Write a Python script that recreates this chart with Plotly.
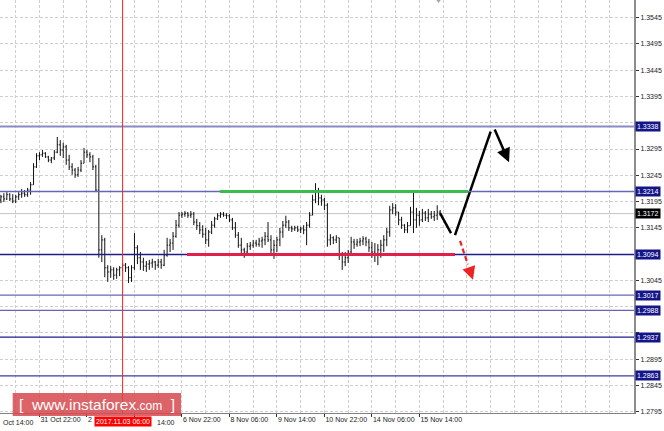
import plotly.graph_objects as go

# ---------------- data ----------------
# x positions are hour indices (H1 bars) relative to "31 Oct 22:00"; bars shown every 2 hours
bar_hour = list(range(-26, 271, 2))

bar_open = [
    1.3198, 1.3204, 1.3200, 1.3208, 1.3200, 1.3196, 1.3204, 1.3208, 1.3211, 1.3208,
    1.3217, 1.3227, 1.3261, 1.3282, 1.3284, 1.3287, 1.3280, 1.3274, 1.3278, 1.3289,
    1.3303, 1.3293, 1.3299, 1.3274, 1.3261, 1.3255, 1.3246, 1.3255, 1.3268, 1.3289,
    1.3284, 1.3280, 1.3261, 1.3217, 1.3103, 1.3122, 1.3069, 1.3061, 1.3065, 1.3055,
    1.3065, 1.3069, 1.3074, 1.3069, 1.3050, 1.3069, 1.3107, 1.3088, 1.3080, 1.3072,
    1.3076, 1.3078, 1.3080, 1.3074, 1.3080, 1.3074, 1.3093, 1.3112, 1.3116, 1.3129,
    1.3150, 1.3169, 1.3171, 1.3173, 1.3169, 1.3171, 1.3156, 1.3149, 1.3141, 1.3133,
    1.3122, 1.3137, 1.3150, 1.3162, 1.3168, 1.3171, 1.3169, 1.3168, 1.3160, 1.3145,
    1.3131, 1.3112, 1.3103, 1.3099, 1.3110, 1.3112, 1.3116, 1.3114, 1.3120, 1.3122,
    1.3129, 1.3122, 1.3103, 1.3112, 1.3122, 1.3137, 1.3150, 1.3156, 1.3145, 1.3143,
    1.3145, 1.3141, 1.3143, 1.3141, 1.3150, 1.3169, 1.3198, 1.3213, 1.3202, 1.3198,
    1.3188, 1.3122, 1.3126, 1.3122, 1.3126, 1.3093, 1.3080, 1.3088, 1.3099, 1.3118,
    1.3114, 1.3118, 1.3120, 1.3124, 1.3118, 1.3107, 1.3099, 1.3093, 1.3103, 1.3112,
    1.3122, 1.3137, 1.3179, 1.3183, 1.3175, 1.3160, 1.3150, 1.3141, 1.3149, 1.3175,
    1.3160, 1.3169, 1.3160, 1.3173, 1.3164, 1.3171, 1.3166, 1.3169, 1.3175,
]
bar_high = [
    1.3208, 1.3211, 1.3213, 1.3211, 1.3209, 1.3208, 1.3213, 1.3219, 1.3217, 1.3221,
    1.3232, 1.3268, 1.3287, 1.3289, 1.3293, 1.3289, 1.3282, 1.3280, 1.3293, 1.3318,
    1.3312, 1.3307, 1.3303, 1.3284, 1.3268, 1.3259, 1.3261, 1.3274, 1.3297, 1.3293,
    1.3289, 1.3284, 1.3265, 1.3278, 1.3131, 1.3126, 1.3074, 1.3072, 1.3070, 1.3069,
    1.3072, 1.3078, 1.3078, 1.3072, 1.3074, 1.3135, 1.3112, 1.3099, 1.3088, 1.3082,
    1.3084, 1.3086, 1.3082, 1.3086, 1.3086, 1.3103, 1.3126, 1.3124, 1.3137, 1.3160,
    1.3175, 1.3175, 1.3177, 1.3175, 1.3177, 1.3175, 1.3162, 1.3156, 1.3150, 1.3145,
    1.3141, 1.3158, 1.3166, 1.3173, 1.3175, 1.3175, 1.3173, 1.3171, 1.3164, 1.3156,
    1.3137, 1.3126, 1.3107, 1.3116, 1.3118, 1.3122, 1.3122, 1.3126, 1.3128, 1.3137,
    1.3156, 1.3131, 1.3122, 1.3128, 1.3145, 1.3158, 1.3168, 1.3160, 1.3149, 1.3149,
    1.3149, 1.3147, 1.3150, 1.3156, 1.3175, 1.3208, 1.3230, 1.3221, 1.3208, 1.3202,
    1.3192, 1.3133, 1.3129, 1.3131, 1.3126, 1.3099, 1.3099, 1.3103, 1.3128, 1.3124,
    1.3124, 1.3126, 1.3129, 1.3128, 1.3124, 1.3118, 1.3116, 1.3114, 1.3122, 1.3131,
    1.3145, 1.3187, 1.3192, 1.3190, 1.3175, 1.3166, 1.3152, 1.3156, 1.3185, 1.3213,
    1.3183, 1.3177, 1.3181, 1.3177, 1.3181, 1.3177, 1.3177, 1.3188, 1.3179,
]
bar_low = [
    1.3192, 1.3194, 1.3198, 1.3196, 1.3192, 1.3192, 1.3198, 1.3202, 1.3204, 1.3204,
    1.3208, 1.3227, 1.3259, 1.3274, 1.3280, 1.3278, 1.3270, 1.3268, 1.3274, 1.3287,
    1.3282, 1.3278, 1.3265, 1.3255, 1.3246, 1.3240, 1.3242, 1.3251, 1.3268, 1.3278,
    1.3270, 1.3255, 1.3213, 1.3088, 1.3080, 1.3051, 1.3042, 1.3050, 1.3046, 1.3048,
    1.3053, 1.3063, 1.3061, 1.3040, 1.3042, 1.3065, 1.3076, 1.3065, 1.3063, 1.3061,
    1.3065, 1.3069, 1.3065, 1.3069, 1.3067, 1.3072, 1.3090, 1.3099, 1.3103, 1.3126,
    1.3145, 1.3164, 1.3166, 1.3164, 1.3164, 1.3150, 1.3141, 1.3133, 1.3126, 1.3114,
    1.3109, 1.3133, 1.3145, 1.3160, 1.3164, 1.3166, 1.3162, 1.3156, 1.3141, 1.3126,
    1.3107, 1.3095, 1.3088, 1.3093, 1.3103, 1.3107, 1.3109, 1.3109, 1.3107, 1.3112,
    1.3118, 1.3093, 1.3086, 1.3099, 1.3110, 1.3126, 1.3145, 1.3139, 1.3137, 1.3139,
    1.3137, 1.3135, 1.3133, 1.3112, 1.3145, 1.3169, 1.3192, 1.3188, 1.3187, 1.3179,
    1.3109, 1.3112, 1.3114, 1.3116, 1.3084, 1.3065, 1.3072, 1.3078, 1.3097, 1.3105,
    1.3109, 1.3110, 1.3112, 1.3110, 1.3099, 1.3088, 1.3080, 1.3074, 1.3088, 1.3099,
    1.3110, 1.3128, 1.3171, 1.3168, 1.3150, 1.3143, 1.3135, 1.3135, 1.3149, 1.3135,
    1.3145, 1.3149, 1.3156, 1.3158, 1.3156, 1.3162, 1.3158, 1.3160, 1.3168,
]
bar_close = [
    1.3204, 1.3200, 1.3208, 1.3200, 1.3196, 1.3204, 1.3208, 1.3211, 1.3208, 1.3217,
    1.3227, 1.3261, 1.3282, 1.3284, 1.3287, 1.3280, 1.3274, 1.3278, 1.3289, 1.3303,
    1.3293, 1.3299, 1.3274, 1.3261, 1.3255, 1.3246, 1.3255, 1.3268, 1.3289, 1.3284,
    1.3280, 1.3261, 1.3217, 1.3103, 1.3122, 1.3069, 1.3061, 1.3065, 1.3055, 1.3065,
    1.3069, 1.3074, 1.3069, 1.3050, 1.3069, 1.3107, 1.3088, 1.3080, 1.3072, 1.3076,
    1.3078, 1.3080, 1.3074, 1.3080, 1.3074, 1.3093, 1.3112, 1.3116, 1.3129, 1.3150,
    1.3169, 1.3171, 1.3173, 1.3169, 1.3171, 1.3156, 1.3149, 1.3141, 1.3133, 1.3122,
    1.3137, 1.3150, 1.3162, 1.3168, 1.3171, 1.3169, 1.3168, 1.3160, 1.3145, 1.3131,
    1.3112, 1.3103, 1.3099, 1.3110, 1.3112, 1.3116, 1.3114, 1.3120, 1.3122, 1.3129,
    1.3122, 1.3103, 1.3112, 1.3122, 1.3137, 1.3150, 1.3156, 1.3145, 1.3143, 1.3145,
    1.3141, 1.3143, 1.3141, 1.3150, 1.3169, 1.3198, 1.3213, 1.3202, 1.3198, 1.3188,
    1.3122, 1.3126, 1.3122, 1.3126, 1.3093, 1.3080, 1.3088, 1.3099, 1.3118, 1.3114,
    1.3118, 1.3120, 1.3124, 1.3118, 1.3107, 1.3099, 1.3093, 1.3103, 1.3112, 1.3122,
    1.3137, 1.3179, 1.3183, 1.3175, 1.3160, 1.3150, 1.3141, 1.3149, 1.3175, 1.3160,
    1.3169, 1.3160, 1.3173, 1.3164, 1.3171, 1.3166, 1.3169, 1.3175, 1.3172,
]

# x-axis labels (the red time box hides most of the "2 Nov 06:00" and "3 Nov 14:00" labels)
tick_hours = [0, 32, 64, 96, 128, 160, 192, 224, 256]
tick_labels = ["31 Oct 22:00", "2", "", "6 Nov 22:00",
               "8 Nov 06:00", "9 Nov 14:00", "10 Nov 22:00", "14 Nov 06:00", "15 Nov 14:00"]
partial_label = "14:00"
partial_label_hour = 78
first_label = "Oct 14:00"

price_ticks = [1.2795, 1.2845, 1.2895, 1.2945, 1.2995, 1.3045, 1.3095, 1.3145,
               1.3195, 1.3245, 1.3295, 1.3345, 1.3395, 1.3445, 1.3495, 1.3545]
hidden_price_labels = [1.2945, 1.2995, 1.3095, 1.3345]   # covered by level boxes

levels = [1.3338, 1.3214, 1.3094, 1.3017, 1.2988, 1.2937, 1.2863]
level_colors = ["#8a8ac6", "#6666b8", "#1e1e88", "#6666b8", "#6666b8", "#1e1e88", "#3c3c9c"]
level_widths = [2, 1.5, 1.5, 1.2, 1.2, 1.2, 1.2]
bid_price = 1.3172

resistance_hours = [121.6, 288.7]
resistance_price = 1.3214
support_hours = [99.4, 280.0]
support_price = 1.3094

marker_hour = 56
marker_label = "2017.11.03 06:00"

fc_down_x = [269.9, 277.3]
fc_down_y = [1.3173, 1.3135]
fc_up_x = [280.0, 304.0]
fc_up_y = [1.3131, 1.3328]
fc_turn_x = [306.3, 316.4]
fc_turn_y = [1.3335, 1.3270]
alt_x = [283.4, 292.1]
alt_y = [1.3120, 1.3046]

x_range = [-26.6, 400.6]
y_range = [1.27925, 1.35787]

FONT = "Liberation Sans"
PLOT_W, PLOT_H = 634, 413
TXT = dict(family=FONT, size=7, color="#1a1a1a")

fig = go.Figure()

fig.add_trace(go.Ohlc(
    x=bar_hour, open=bar_open, high=bar_high, low=bar_low, close=bar_close,
    increasing=dict(line=dict(color="#111111", width=1)),
    decreasing=dict(line=dict(color="#111111", width=1)),
    tickwidth=0.35, hoverinfo="skip", showlegend=False,
))

fig.add_trace(go.Scatter(x=fc_down_x, y=fc_down_y, mode="lines",
                         line=dict(color="black", width=2.5), hoverinfo="skip", showlegend=False))
fig.add_trace(go.Scatter(x=fc_up_x, y=fc_up_y, mode="lines",
                         line=dict(color="black", width=2.5), hoverinfo="skip", showlegend=False))
fig.add_trace(go.Scatter(x=[alt_x[0], alt_x[0] + (alt_x[1] - alt_x[0]) * 0.6],
                         y=[alt_y[0], alt_y[0] + (alt_y[1] - alt_y[0]) * 0.6], mode="lines",
                         line=dict(color="#ee2222", width=2.2, dash="5px,3px"),
                         hoverinfo="skip", showlegend=False))
fig.add_trace(go.Scatter(x=[268.9], y=[y_range[1]], mode="markers",
                         marker=dict(symbol="triangle-down", size=6, color="#a8a8a8"),
                         cliponaxis=False, hoverinfo="skip", showlegend=False))

shapes = []
shapes.append(dict(type="line", xref="paper", x0=0, x1=1, yref="y", y0=bid_price, y1=bid_price,
                   line=dict(color="#c4c4c4", width=1), layer="below"))
for lv, c, w in zip(levels, level_colors, level_widths):
    shapes.append(dict(type="line", xref="paper", x0=0, x1=1, yref="y", y0=lv, y1=lv,
                       line=dict(color=c, width=w)))
shapes.append(dict(type="line", xref="x", x0=resistance_hours[0], x1=resistance_hours[1],
                   yref="y", y0=resistance_price, y1=resistance_price,
                   line=dict(color="#3dbb4e", width=3)))
shapes.append(dict(type="line", xref="x", x0=support_hours[0], x1=support_hours[1],
                   yref="y", y0=support_price, y1=support_price,
                   line=dict(color="#e0204a", width=3)))
shapes.append(dict(type="line", xref="x", x0=marker_hour, x1=marker_hour, yref="paper", y0=0, y1=1,
                   line=dict(color="#ff2020", width=1)))
shapes.append(dict(type="rect", xref="paper", yref="paper",
                   x0=12.7 / PLOT_W, x1=181 / PLOT_W, y0=1 - 416 / PLOT_H, y1=1 - 393 / PLOT_H,
                   fillcolor="rgba(214,72,76,0.85)", line=dict(width=0), layer="above"))

annotations = []
for lv in levels:
    annotations.append(dict(xref="paper", x=1, xanchor="left", xshift=1, yref="y", y=lv,
                            text=f"{lv:.4f}", showarrow=False, bgcolor="#15158a",
                            font=dict(family=FONT, size=7, color="white"), borderpad=1))
annotations.append(dict(xref="paper", x=1, xanchor="left", xshift=1, yref="y", y=bid_price,
                        text=f"{bid_price:.4f}", showarrow=False, bgcolor="#000000",
                        font=dict(family=FONT, size=7, color="white"), borderpad=1))
annotations.append(dict(xref="x", x=marker_hour, xanchor="center", yref="paper", y=0,
                        yanchor="top", yshift=-3, text=marker_label, showarrow=False,
                        bgcolor="#ff0000", font=dict(family=FONT, size=7, color="white"),
                        borderpad=1))
annotations.append(dict(xref="x", x=partial_label_hour, xanchor="left", yref="paper", y=0,
                        yanchor="top", yshift=-4, text=partial_label, showarrow=False, font=TXT))
annotations.append(dict(xref="paper", x=0, xanchor="left", xshift=1, yref="paper", y=0,
                        yanchor="top", yshift=-4, text=first_label, showarrow=False, font=TXT))
annotations.append(dict(xref="paper", x=(12.7 + 181) / 2 / PLOT_W, xanchor="center",
                        yref="paper", y=1 - 404.5 / PLOT_H, yanchor="middle",
                        text="[ &nbsp;www.instaforex<span style='font-size:12px'>.com</span>&nbsp; ]",
                        showarrow=False, font=dict(family=FONT, size=15.5, color="white")))
annotations.append(dict(xref="x", yref="y", x=fc_turn_x[1], y=fc_turn_y[1],
                        axref="x", ayref="y", ax=fc_turn_x[0], ay=fc_turn_y[0],
                        showarrow=True, arrowhead=2, arrowsize=1.1, arrowwidth=2.5,
                        arrowcolor="black", text=""))
annotations.append(dict(xref="x", yref="y", x=alt_x[1], y=alt_y[1],
                        axref="x", ayref="y",
                        ax=alt_x[0] + (alt_x[1] - alt_x[0]) * 0.68,
                        ay=alt_y[0] + (alt_y[1] - alt_y[0]) * 0.68,
                        showarrow=True, arrowhead=2, arrowsize=1.2, arrowwidth=2.2,
                        arrowcolor="#ee2222", text=""))

fig.update_layout(
    width=664, height=431,
    margin=dict(l=0, r=30, t=0, b=18, pad=0),
    paper_bgcolor="white", plot_bgcolor="white",
    showlegend=False, hovermode=False,
    shapes=shapes, annotations=annotations,
    font=TXT,
)
fig.update_xaxes(
    range=x_range, tickmode="array", tickvals=tick_hours, ticktext=tick_labels,
    tickangle=0, ticklabelposition="outside right", ticks="outside", ticklen=3,
    tickcolor="#333", tickfont=TXT,
    showgrid=True, gridcolor="#cfcfcf", griddash="3px,2px", gridwidth=1,
    minor=dict(tickmode="linear", tick0=-16, dtick=16, showgrid=True,
               gridcolor="#cfcfcf", griddash="3px,2px", ticks=""),
    showline=True, linecolor="#808080", linewidth=1,
    zeroline=False, rangeslider=dict(visible=False), automargin=False, fixedrange=True,
)
fig.update_yaxes(
    range=y_range, side="right", tickmode="array", tickvals=price_ticks,
    ticktext=["" if v in hidden_price_labels else f"{v:.4f}" for v in price_ticks],
    ticks="outside", ticklen=3, tickcolor="#333", tickfont=TXT,
    showgrid=True, gridcolor="#cfcfcf", griddash="3px,2px", gridwidth=1,
    showline=True, linecolor="#8c8c8c", linewidth=2,
    zeroline=False, automargin=False, fixedrange=True,
)

fig.write_html("out.html", config={"displayModeBar": False},
               post_script="document.body.style.margin='0px';document.body.style.overflow='hidden';")
